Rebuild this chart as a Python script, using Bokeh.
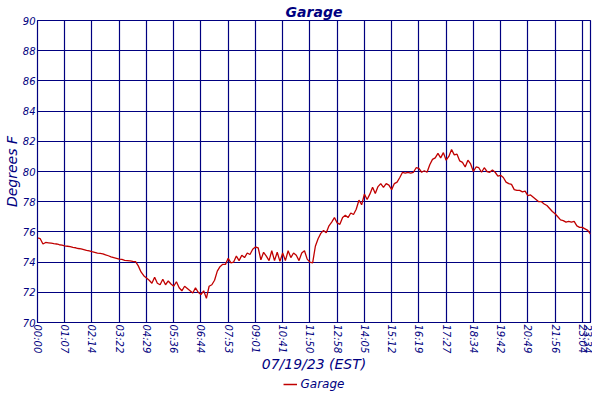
from bokeh.plotting import figure
from bokeh.models import FixedTicker
from bokeh.layouts import column
from bokeh.embed import file_html
from bokeh.resources import INLINE

# garage temperature readings (deg F), one per sample
temps = [
    75.6, 75.55, 75.2, 75.3, 75.28, 75.25, 75.22, 75.2, 75.15, 75.12,
    75.08, 75.05, 75.02, 74.98, 74.95, 74.9, 74.87, 74.83, 74.78, 74.74,
    74.69, 74.65, 74.6, 74.58, 74.55, 74.48, 74.42, 74.35, 74.3, 74.25,
    74.2, 74.18, 74.12, 74.1, 74.08, 74.05, 74.03, 73.75, 73.35, 73.1,
    72.95, 72.8, 72.6, 73.0, 72.6, 72.5, 72.87, 72.5, 72.75, 72.55,
    72.4, 72.7, 72.3, 72.1, 72.4, 72.25, 72.1, 71.95, 72.3, 72.0,
    71.85, 72.1, 71.6, 72.4, 72.5, 72.8, 73.4, 73.7, 73.85, 73.85,
    74.25, 73.95, 74.0, 74.4, 74.1, 74.45, 74.3, 74.6, 74.5, 74.85,
    75.0, 74.95, 74.15, 74.65, 74.4, 74.1, 74.75, 74.1, 74.65, 74.05,
    74.6, 74.1, 74.75, 74.3, 74.6, 74.45, 74.1, 74.6, 74.75, 74.2,
    74.0, 73.95, 75.05, 75.55, 75.9, 76.1, 75.95, 76.4, 76.65, 76.95,
    76.6, 76.5, 76.95, 77.1, 76.95, 77.25, 77.15, 77.5, 78.1, 77.8,
    78.5, 78.15, 78.5, 78.95, 78.55, 79.0, 79.2, 78.95, 79.2, 79.1,
    78.8, 79.2, 79.3, 79.6, 79.95, 79.9, 79.95, 79.9, 79.95, 80.25,
    80.2, 79.95, 80.05, 79.95, 80.45, 80.8, 80.9, 81.2, 80.9, 81.25,
    80.75, 81.0, 81.45, 81.1, 81.15, 80.7, 80.6, 80.3, 80.75, 80.5,
    80.0, 80.3, 80.25, 79.95, 80.25, 80.0, 79.95, 80.1, 79.95, 79.7,
    79.75, 79.6, 79.3, 79.2, 79.15, 78.8, 78.75, 78.75, 78.65, 78.7,
    78.4, 78.45, 78.3, 78.15, 78.0, 78.0, 77.85, 77.75, 77.55, 77.35,
    77.2, 77.0, 76.8, 76.75, 76.65, 76.7, 76.65, 76.7, 76.4, 76.3,
    76.3, 76.2, 76.1, 75.85,
]
samples = list(range(len(temps)))

time_labels = ["00:00", "01:07", "02:14", "03:22", "04:29", "05:36", "06:44",
               "07:53", "09:01", "10:41", "11:50", "12:58", "14:05", "15:12",
               "16:19", "17:27", "18:34", "19:42", "20:49", "21:56", "23:04",
               "23:34"]
label_samples = [0, 10, 20, 30, 40, 50, 60, 70, 80, 90, 100, 110, 120, 130,
                 140, 150, 160, 170, 180, 190, 200, 203]
y_ticks = [70, 72, 74, 76, 78, 80, 82, 84, 86, 88, 90]

NAVY = "#000080"
RED = "#c00000"
FONT = "DejaVu Sans"

p = figure(width=592, height=375, title="Garage",
           x_range=(0, samples[-1]), y_range=(y_ticks[0], y_ticks[-1]),
           output_backend="svg", toolbar_location=None,
           min_border_top=0, min_border_right=2, min_border_bottom=0,
           min_border_left=0)

p.title.align = "center"
p.title.text_color = NAVY
p.title.text_font = FONT
p.title.text_font_size = "14px"
p.title.text_font_style = "bold italic"
p.title.standoff = 2

p.line(samples, temps, line_color=RED, line_width=1.3)

p.xaxis.ticker = FixedTicker(ticks=label_samples)
p.xaxis.major_label_overrides = {s: t for s, t in zip(label_samples, time_labels)}
p.xaxis.major_label_orientation = "vertical"
p.xaxis.axis_label = "07/19/23 (EST)"
p.yaxis.ticker = FixedTicker(ticks=y_ticks)
p.yaxis.axis_label = "Degrees F"

for ax in (p.xaxis, p.yaxis):
    ax.axis_line_color = NAVY
    ax.major_tick_out = 0
    ax.major_tick_in = 0
    ax.minor_tick_line_color = None
    ax.major_label_text_color = NAVY
    ax.major_label_text_font = FONT
    ax.major_label_text_font_style = "italic"
    ax.major_label_text_font_size = "10px"
    ax.major_label_standoff = 2
    ax.axis_label_text_color = NAVY
    ax.axis_label_text_font = FONT
    ax.axis_label_text_font_style = "italic"
    ax.axis_label_text_font_size = "14px"
    ax.axis_label_standoff = 0

p.xgrid.ticker = FixedTicker(ticks=label_samples)
p.ygrid.ticker = FixedTicker(ticks=y_ticks)
for g in (p.xgrid, p.ygrid):
    g.grid_line_color = NAVY
    g.grid_line_alpha = 1.0
    g.grid_line_width = 1.2

p.outline_line_color = NAVY
p.outline_line_width = 1.2
p.outline_line_alpha = 1.0

# legend strip under the chart (svg clips legends outside the frame)
# a one-sample line draws nothing but gives the legend its red swatch
leg = figure(width=592, height=17, output_backend="svg", toolbar_location=None,
             x_axis_type=None, y_axis_type=None, min_border=0)
leg.line(samples[:1], temps[:1], line_color=RED, line_width=1.5,
         legend_label="Garage")
leg.xgrid.visible = False
leg.ygrid.visible = False
leg.outline_line_color = None
leg.legend.location = "center"
leg.legend.orientation = "horizontal"
leg.legend.border_line_color = None
leg.legend.background_fill_alpha = 0
leg.legend.label_text_font = FONT
leg.legend.label_text_font_style = "italic"
leg.legend.label_text_font_size = "12px"
leg.legend.label_text_color = NAVY
leg.legend.glyph_width = 14
leg.legend.glyph_height = 10
leg.legend.label_height = 14
leg.legend.label_standoff = 4
leg.legend.padding = 0
leg.legend.margin = 0

layout = column(p, leg, spacing=0)

open("out.html", "w").write(file_html(layout, INLINE))
